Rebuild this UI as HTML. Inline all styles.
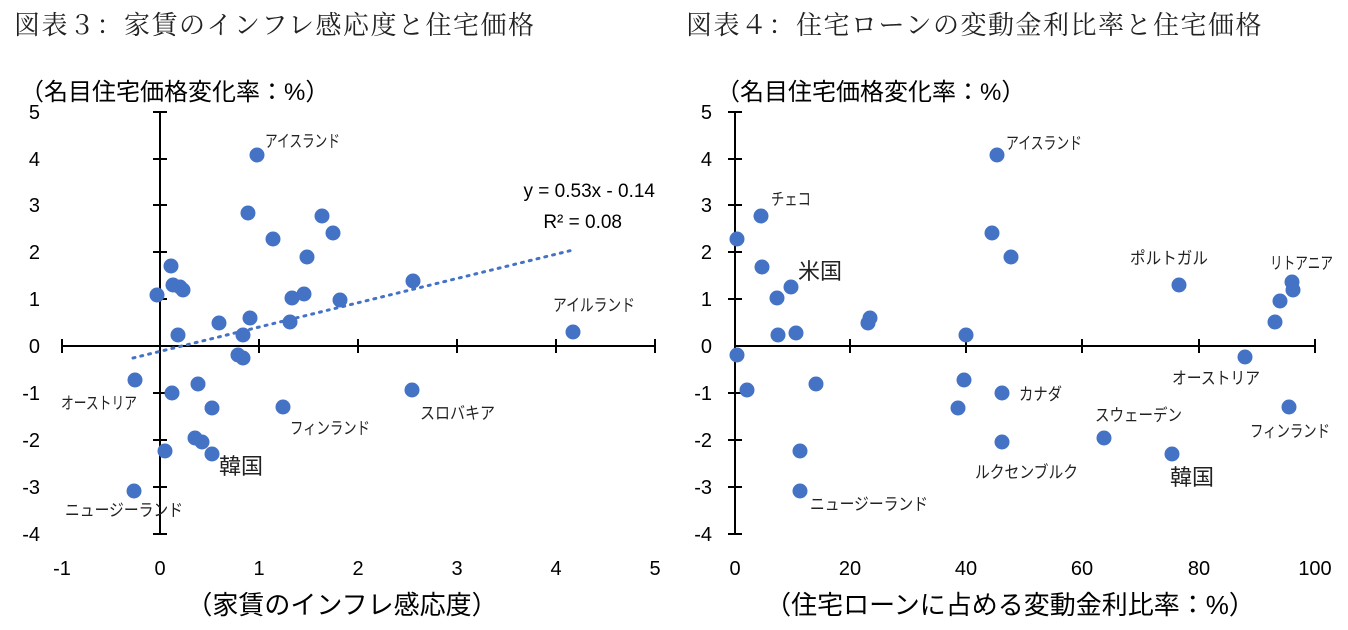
<!DOCTYPE html>
<html><head><meta charset="utf-8"><style>
html,body{margin:0;padding:0;background:#fff;}
svg{display:block;}
.t{font-family:"Liberation Serif","Noto Serif CJK SC",serif;font-size:26px;fill:#222;letter-spacing:1.5px;}
.ax{font-family:"Liberation Sans","Noto Sans CJK JP",sans-serif;font-size:20px;fill:#000;}
.at{font-family:"Liberation Sans","Noto Sans CJK JP",sans-serif;font-size:24px;fill:#000;}
.xt{font-family:"Liberation Sans","Noto Sans CJK JP",sans-serif;font-size:26px;fill:#000;}
.lb{font-family:"Liberation Sans","Noto Sans CJK JP",sans-serif;font-size:17px;fill:#222;}
.lg{font-family:"Liberation Sans","Noto Sans CJK JP",sans-serif;font-size:22px;fill:#222;}
.eq{font-family:"Liberation Sans",sans-serif;font-size:19px;fill:#000;}
circle{fill:#4472C4;}
</style></head><body>
<svg width="1348" height="630" xmlns="http://www.w3.org/2000/svg">
<text class="t" x="14" y="34">図表３：家賃のインフレ感応度と住宅価格</text>
<text class="t" x="686" y="34">図表４：住宅ローンの変動金利比率と住宅価格</text>

<!-- Chart 1 -->
<text class="at" x="20" y="100">（名目住宅価格変化率：%）</text>
<g stroke="#000" stroke-width="2">
<line x1="160" y1="112" x2="160" y2="534"/>
<line x1="62" y1="346" x2="655" y2="346"/>
<line x1="153" y1="112" x2="167" y2="112"/><line x1="153" y1="159" x2="167" y2="159"/><line x1="153" y1="205" x2="167" y2="205"/><line x1="153" y1="252" x2="167" y2="252"/><line x1="153" y1="299" x2="167" y2="299"/><line x1="153" y1="393" x2="167" y2="393"/><line x1="153" y1="440" x2="167" y2="440"/><line x1="153" y1="487" x2="167" y2="487"/><line x1="153" y1="534" x2="167" y2="534"/>
<line x1="62" y1="339" x2="62" y2="353"/><line x1="259" y1="339" x2="259" y2="353"/><line x1="358" y1="339" x2="358" y2="353"/><line x1="457" y1="339" x2="457" y2="353"/><line x1="556" y1="339" x2="556" y2="353"/><line x1="655" y1="339" x2="655" y2="353"/>
</g>
<g class="ax" text-anchor="end">
<text x="40" y="119">5</text><text x="40" y="166">4</text><text x="40" y="212">3</text><text x="40" y="259">2</text><text x="40" y="306">1</text><text x="40" y="353">0</text><text x="40" y="400">-1</text><text x="40" y="447">-2</text><text x="40" y="494">-3</text><text x="40" y="541">-4</text>
</g>
<g class="ax" text-anchor="middle">
<text x="62" y="575">-1</text><text x="160" y="575">0</text><text x="259" y="575">1</text><text x="358" y="575">2</text><text x="457" y="575">3</text><text x="556" y="575">4</text><text x="655" y="575">5</text>
</g>
<text class="xt" x="342" y="614" text-anchor="middle">（家賃のインフレ感応度）</text>
<line x1="133" y1="358" x2="573" y2="250" stroke="#4472C4" stroke-width="3" stroke-dasharray="2,6" stroke-linecap="round"/>
<g>
<circle cx="257" cy="155" r="7.5"/><circle cx="248" cy="213" r="7.5"/><circle cx="273" cy="239" r="7.5"/><circle cx="322" cy="216" r="7.5"/><circle cx="333" cy="233" r="7.5"/><circle cx="307" cy="257" r="7.5"/><circle cx="171" cy="266" r="7.5"/><circle cx="173" cy="285" r="7.5"/><circle cx="180" cy="287" r="7.5"/><circle cx="183" cy="290" r="7.5"/><circle cx="157" cy="295" r="7.5"/><circle cx="413" cy="281" r="7.5"/><circle cx="292" cy="298" r="7.5"/><circle cx="304" cy="294" r="7.5"/><circle cx="340" cy="300" r="7.5"/><circle cx="219" cy="323" r="7.5"/><circle cx="250" cy="318" r="7.5"/><circle cx="290" cy="322" r="7.5"/><circle cx="178" cy="335" r="7.5"/><circle cx="243" cy="335" r="7.5"/><circle cx="573" cy="332" r="7.5"/><circle cx="238" cy="355" r="7.5"/><circle cx="243" cy="358" r="7.5"/><circle cx="135" cy="380" r="7.5"/><circle cx="198" cy="384" r="7.5"/><circle cx="172" cy="393" r="7.5"/><circle cx="412" cy="390" r="7.5"/><circle cx="212" cy="408" r="7.5"/><circle cx="283" cy="407" r="7.5"/><circle cx="195" cy="438" r="7.5"/><circle cx="202" cy="442" r="7.5"/><circle cx="165" cy="451" r="7.5"/><circle cx="212" cy="454" r="7.5"/><circle cx="134" cy="491" r="7.5"/>
</g>
<text class="lb" x="265" y="147" textLength="75" lengthAdjust="spacingAndGlyphs">アイスランド</text>
<text class="eq" x="655" y="197" text-anchor="end">y = 0.53x - 0.14</text>
<text class="eq" x="622" y="228" text-anchor="end">R² = 0.08</text>
<text class="lb" x="553" y="311" textLength="82" lengthAdjust="spacingAndGlyphs">アイルランド</text>
<text class="lb" x="61" y="409" textLength="76" lengthAdjust="spacingAndGlyphs">オーストリア</text>
<text class="lb" x="290" y="434" textLength="80" lengthAdjust="spacingAndGlyphs">フィンランド</text>
<text class="lb" x="420" y="419" textLength="75" lengthAdjust="spacingAndGlyphs">スロバキア</text>
<text class="lg" x="219" y="474">韓国</text>
<text class="lb" x="65" y="516" textLength="118" lengthAdjust="spacingAndGlyphs">ニュージーランド</text>

<!-- Chart 2 -->
<text class="at" x="716" y="100">（名目住宅価格変化率：%）</text>
<g stroke="#000" stroke-width="2">
<line x1="735" y1="112" x2="735" y2="534"/>
<line x1="735" y1="346" x2="1315" y2="346"/>
<line x1="728" y1="112" x2="742" y2="112"/><line x1="728" y1="159" x2="742" y2="159"/><line x1="728" y1="205" x2="742" y2="205"/><line x1="728" y1="252" x2="742" y2="252"/><line x1="728" y1="299" x2="742" y2="299"/><line x1="728" y1="393" x2="742" y2="393"/><line x1="728" y1="440" x2="742" y2="440"/><line x1="728" y1="487" x2="742" y2="487"/><line x1="728" y1="534" x2="742" y2="534"/>
<line x1="850" y1="339" x2="850" y2="353"/><line x1="966" y1="339" x2="966" y2="353"/><line x1="1082" y1="339" x2="1082" y2="353"/><line x1="1199" y1="339" x2="1199" y2="353"/><line x1="1315" y1="339" x2="1315" y2="353"/>
</g>
<g class="ax" text-anchor="end">
<text x="712" y="119">5</text><text x="712" y="166">4</text><text x="712" y="212">3</text><text x="712" y="259">2</text><text x="712" y="306">1</text><text x="712" y="353">0</text><text x="712" y="400">-1</text><text x="712" y="447">-2</text><text x="712" y="494">-3</text><text x="712" y="541">-4</text>
</g>
<g class="ax" text-anchor="middle">
<text x="735" y="575">0</text><text x="850" y="575">20</text><text x="966" y="575">40</text><text x="1082" y="575">60</text><text x="1199" y="575">80</text><text x="1315" y="575">100</text>
</g>
<text class="xt" x="1010" y="614" text-anchor="middle">（住宅ローンに占める変動金利比率：%）</text>
<g>
<circle cx="737" cy="239" r="7.5"/><circle cx="761" cy="216" r="7.5"/><circle cx="762" cy="267" r="7.5"/><circle cx="777" cy="298" r="7.5"/><circle cx="791" cy="287" r="7.5"/><circle cx="778" cy="335" r="7.5"/><circle cx="796" cy="333" r="7.5"/><circle cx="868" cy="323" r="7.5"/><circle cx="870" cy="318" r="7.5"/><circle cx="966" cy="335" r="7.5"/><circle cx="997" cy="155" r="7.5"/><circle cx="992" cy="233" r="7.5"/><circle cx="1011" cy="257" r="7.5"/><circle cx="1179" cy="285" r="7.5"/><circle cx="1292" cy="282" r="7.5"/><circle cx="1293" cy="290" r="7.5"/><circle cx="1280" cy="301" r="7.5"/><circle cx="1275" cy="322" r="7.5"/><circle cx="737" cy="355" r="7.5"/><circle cx="1245" cy="357" r="7.5"/><circle cx="747" cy="390" r="7.5"/><circle cx="816" cy="384" r="7.5"/><circle cx="964" cy="380" r="7.5"/><circle cx="1002" cy="393" r="7.5"/><circle cx="958" cy="408" r="7.5"/><circle cx="1289" cy="407" r="7.5"/><circle cx="800" cy="451" r="7.5"/><circle cx="1002" cy="442" r="7.5"/><circle cx="1104" cy="438" r="7.5"/><circle cx="1172" cy="454" r="7.5"/><circle cx="800" cy="491" r="7.5"/>
</g>
<text class="lb" x="771" y="205" textLength="40" lengthAdjust="spacingAndGlyphs">チェコ</text>
<text class="lg" x="798" y="279">米国</text>
<text class="lb" x="1006" y="149" textLength="76" lengthAdjust="spacingAndGlyphs">アイスランド</text>
<text class="lb" x="1130" y="264" textLength="78" lengthAdjust="spacingAndGlyphs">ポルトガル</text>
<text class="lb" x="1270" y="269" textLength="63" lengthAdjust="spacingAndGlyphs">リトアニア</text>
<text class="lb" x="1172" y="384" textLength="88" lengthAdjust="spacingAndGlyphs">オーストリア</text>
<text class="lb" x="1019" y="400" textLength="43" lengthAdjust="spacingAndGlyphs">カナダ</text>
<text class="lb" x="1095" y="421" textLength="87" lengthAdjust="spacingAndGlyphs">スウェーデン</text>
<text class="lb" x="1250" y="437" textLength="80" lengthAdjust="spacingAndGlyphs">フィンランド</text>
<text class="lb" x="975" y="478" textLength="103" lengthAdjust="spacingAndGlyphs">ルクセンブルク</text>
<text class="lg" x="1170" y="485">韓国</text>
<text class="lb" x="810" y="510" textLength="118" lengthAdjust="spacingAndGlyphs">ニュージーランド</text>
</svg>
</body></html>
